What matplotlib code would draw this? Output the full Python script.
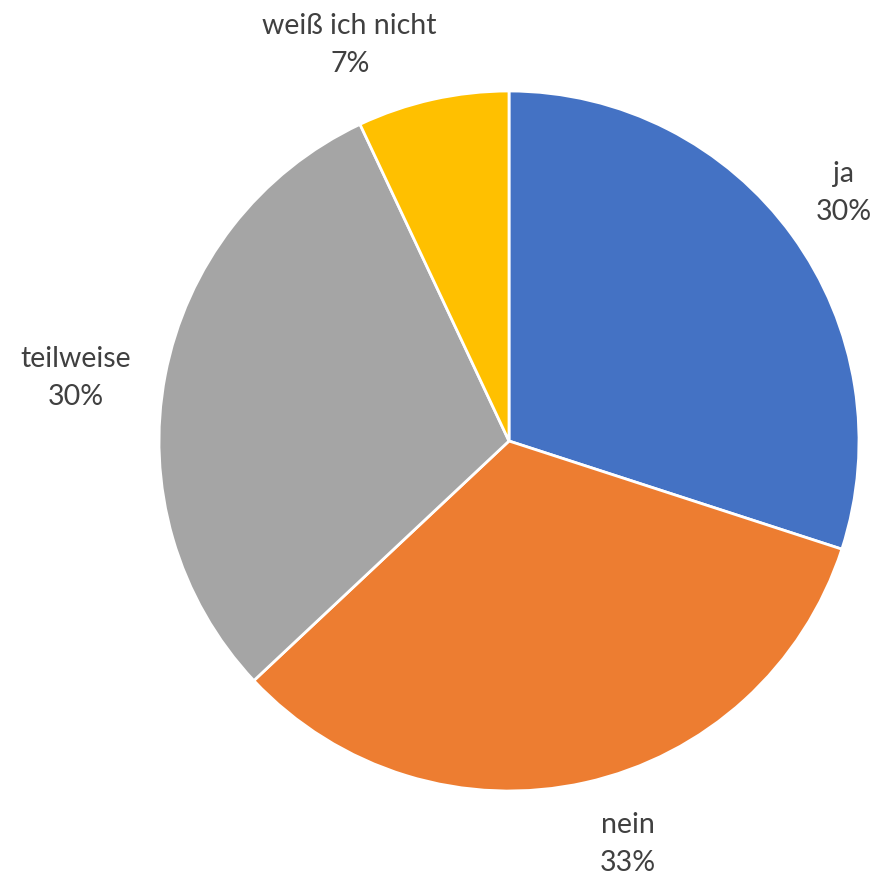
import numpy as np
import matplotlib
matplotlib.use("Agg")
import matplotlib.pyplot as plt

labels = ["ja", "nein", "teilweise", "weiß ich nicht"]
percent = [30, 33, 30, 7]
colors = ["#4472C4", "#ED7D31", "#A5A5A5", "#FFC000"]

# label distances from the center (in radii) and angle nudges in degrees
label_dist = [1.19, 1.20, 1.25, 1.22]
label_shift = [0.5, 3.8, 2.5, 9.3]

plt.rcParams["font.family"] = ["Lato", "DejaVu Sans"]

fig = plt.figure(figsize=(8.72, 8.75), dpi=100)
ax = fig.add_axes([159 / 872, 84 / 875, 700 / 872, 700 / 875])

wedges, _ = ax.pie(percent, colors=colors, startangle=90, counterclock=False,
                   radius=1, wedgeprops=dict(edgecolor="white", linewidth=2))
ax.set_xlim(-1, 1)
ax.set_ylim(-1, 1)
ax.axis("off")

for w, name, p, d, s in zip(wedges, labels, percent, label_dist, label_shift):
    mid = np.deg2rad((w.theta1 + w.theta2) / 2 + s)
    ax.text(d * np.cos(mid), d * np.sin(mid), f"{name}\n{p}%",
            ha="center", va="center", fontsize=20.5, color="#404040",
            linespacing=1.55)

fig.savefig("out.png", dpi=100)
